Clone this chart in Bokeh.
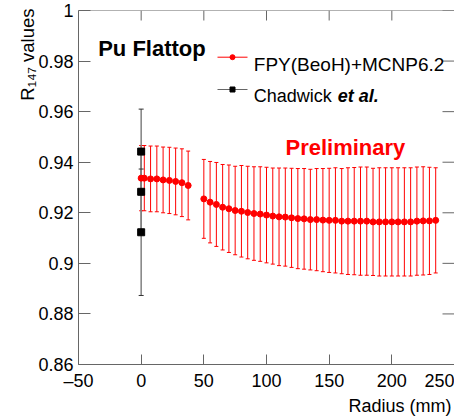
from bokeh.plotting import figure
from bokeh.models import (Label, Whisker, TeeHead, ColumnDataSource, FixedTicker,
                          Span, Range1d, Title)
from bokeh.embed import file_html
from bokeh.resources import INLINE

# ---------------- data ----------------
fpy_x = [0, 2.5, 7.5, 12.5, 17.5, 22.5, 27.5, 32.5, 37.5,
         50, 55, 60, 65, 70, 75, 80, 85, 90, 95, 100, 105, 110, 115, 120, 125,
         130, 135, 140, 145, 150, 155, 160, 165, 170, 175, 180, 185, 190, 195,
         200, 205, 210, 215, 220, 225, 230, 235]
fpy_y = [0.9337, 0.9337, 0.9334, 0.9334, 0.9330, 0.9328, 0.9324, 0.9319, 0.9308,
         0.9255, 0.9242, 0.9233, 0.9222, 0.9216, 0.9209, 0.9206, 0.9201, 0.9197,
         0.9195, 0.9191, 0.9187, 0.9184, 0.9183, 0.9180, 0.9177,
         0.9176, 0.9173, 0.9173, 0.9171, 0.9170, 0.9170, 0.9167, 0.9167, 0.9167,
         0.9167, 0.9167, 0.9164, 0.9164, 0.9164, 0.9164, 0.9164, 0.9164, 0.9164,
         0.9167, 0.9168, 0.9168, 0.9170]
fpy_err = [0.0129, 0.0129, 0.0130, 0.0130, 0.0130, 0.0131, 0.0132, 0.0134, 0.0136,
           0.0156, 0.0161, 0.0166, 0.0169, 0.0173, 0.0175, 0.0181, 0.0183, 0.0185,
           0.0187, 0.0189, 0.0190, 0.0193, 0.0194, 0.0196, 0.0198,
           0.0199, 0.0199, 0.0202, 0.0204, 0.0206, 0.0208, 0.0208, 0.0211, 0.0212,
           0.0214, 0.0214, 0.0212, 0.0214, 0.0214, 0.0214, 0.0214, 0.0214, 0.0214,
           0.0214, 0.0214, 0.0212, 0.0208]

chad_x = [0, 0, 0]
chad_y = [0.9442, 0.9283, 0.9123]
chad_err = [0.0168, 0.0160, 0.0250]

x_ticks = [-50, 0, 50, 100, 150, 200, 250]
y_ticks = [0.86, 0.88, 0.90, 0.92, 0.94, 0.96, 0.98, 1.0]
x_start, x_end = -50, 250
y_start, y_end = 0.86, 1.0

FONT = "Liberation Sans"
AXIS_COLOR = "#666666"

# ---------------- figure ----------------
W, H = 454, 420
FL, FT, FW, FH = 78, 10, 376, 354   # frame in page px
p = figure(width=W, height=H, x_range=Range1d(x_start, x_end),
           y_range=Range1d(y_start, y_end), output_backend="svg",
           toolbar_location=None, title=None,
           min_border_left=FL, min_border_right=W - FL - FW,
           min_border_top=FT, min_border_bottom=H - FT - FH)
p.outline_line_color = None
p.grid.visible = False
p.background_fill_color = "white"
p.border_fill_color = "white"

PXX = FW / (x_end - x_start)
PXY = FH / (y_end - y_start)

x_title = "Radius (mm)"
y_title = "R\u2081\u2084\u2087 values"

for ax in (p.xaxis[0], p.yaxis[0]):
    ax.axis_line_color = AXIS_COLOR
    ax.major_tick_line_color = AXIS_COLOR
    ax.minor_tick_in = 0
    ax.minor_tick_out = 0
    ax.major_tick_out = 0
    ax.major_label_text_font = FONT
    ax.major_label_text_font_size = "18px"
    ax.major_label_text_color = "black"

p.xaxis.ticker = FixedTicker(ticks=x_ticks)
p.xaxis.major_tick_in = 10
p.xaxis.major_label_standoff = 6
p.xaxis.major_label_overrides = {-50: "\u201350"}
p.yaxis.ticker = FixedTicker(ticks=y_ticks)
p.yaxis.major_tick_in = 12
p.yaxis.major_label_standoff = 5
p.yaxis.major_label_overrides = {1.0: "1"}

# axis titles at the axis ends (ROOT style)
p.add_layout(Title(text=x_title, align="right", text_font=FONT, text_font_size="18px",
                   text_font_style="normal", text_color="#000000", standoff=0,
                   offset=3), "below")
p.add_layout(Title(text=y_title, align="right", text_font=FONT, text_font_size="18.5px",
                   text_font_style="normal", text_color="#000000", standoff=-4,
                   offset=-2), "left")

# top frame line and inward ticks on top / right
p.add_layout(Span(location=y_end, dimension="width", line_color=AXIS_COLOR, line_width=1))
p.segment(x0=x_ticks, y0=[y_end] * len(x_ticks), x1=x_ticks,
          y1=[y_end - 10 / PXY] * len(x_ticks), line_color=AXIS_COLOR, line_width=1)
p.segment(x0=[x_end] * len(y_ticks), y0=y_ticks, x1=[x_end - 12 / PXX] * len(y_ticks),
          y1=y_ticks, line_color=AXIS_COLOR, line_width=1)

# ---------------- data marks ----------------
src_f = ColumnDataSource(dict(x=fpy_x, y=fpy_y,
                              lo=[a - b for a, b in zip(fpy_y, fpy_err)],
                              hi=[a + b for a, b in zip(fpy_y, fpy_err)]))
p.add_layout(Whisker(source=src_f, base="x", lower="lo", upper="hi", dimension="height",
                     line_color="#ff0000", line_width=1,
                     upper_head=TeeHead(size=4, line_color="#ff0000", line_width=1),
                     lower_head=TeeHead(size=4, line_color="#ff0000", line_width=1)))
p.scatter("x", "y", source=src_f, marker="circle", size=6, color="#ff0000")

src_c = ColumnDataSource(dict(x=chad_x, y=chad_y,
                              lo=[a - b for a, b in zip(chad_y, chad_err)],
                              hi=[a + b for a, b in zip(chad_y, chad_err)]))
p.add_layout(Whisker(source=src_c, base="x", lower="lo", upper="hi", dimension="height",
                     line_color="#808080", line_width=1.5,
                     upper_head=TeeHead(size=5, line_color="#333333", line_width=1),
                     lower_head=TeeHead(size=5, line_color="#333333", line_width=1)))
p.scatter("x", "y", source=src_c, marker="square", size=7, color="black")

# ---------------- helpers (page px -> data / screen) ----------------
OX, OY = FL, FT + FH   # page px of frame bottom-left


def wx2d(wx):
    return x_start + (wx - OX) / PXX


def wy2d(wy):
    return y_end - (wy - FT) / PXY


def lab(text, wx, wy, size, style="normal", color="black", align="left"):
    p.add_layout(Label(x=wx - OX, y=OY - wy, x_units="screen", y_units="screen",
                       text=text, text_font=FONT, text_font_size=f"{size}px",
                       text_font_style=style, text_color=color, text_align=align,
                       text_baseline="alphabetic"))


# legend
p.line([wx2d(217), wx2d(247)], [wy2d(56.7)] * 2, line_color="#ff0000", line_width=1)
p.scatter([wx2d(232)], [wy2d(56.7)], marker="circle", size=5, color="#ff0000")
p.line([wx2d(217), wx2d(247)], [wy2d(89)] * 2, line_color=AXIS_COLOR, line_width=1.2)
p.scatter([wx2d(232)], [wy2d(89)], marker="square", size=5, color="black")
lab("FPY(BeoH)+MCNP6.2", 253.3, 64, 19)
lab("Chadwick", 253.3, 95, 18)
lab("et al.", 337.3, 95, 18, style="bold italic")

# annotations
lab("Pu Flattop", 97.7, 48.3, 22, style="bold")
lab("Preliminary", 285, 146.7, 22, style="bold", color="#ff0000")

open("out.html", "w").write(file_html(p, INLINE))
